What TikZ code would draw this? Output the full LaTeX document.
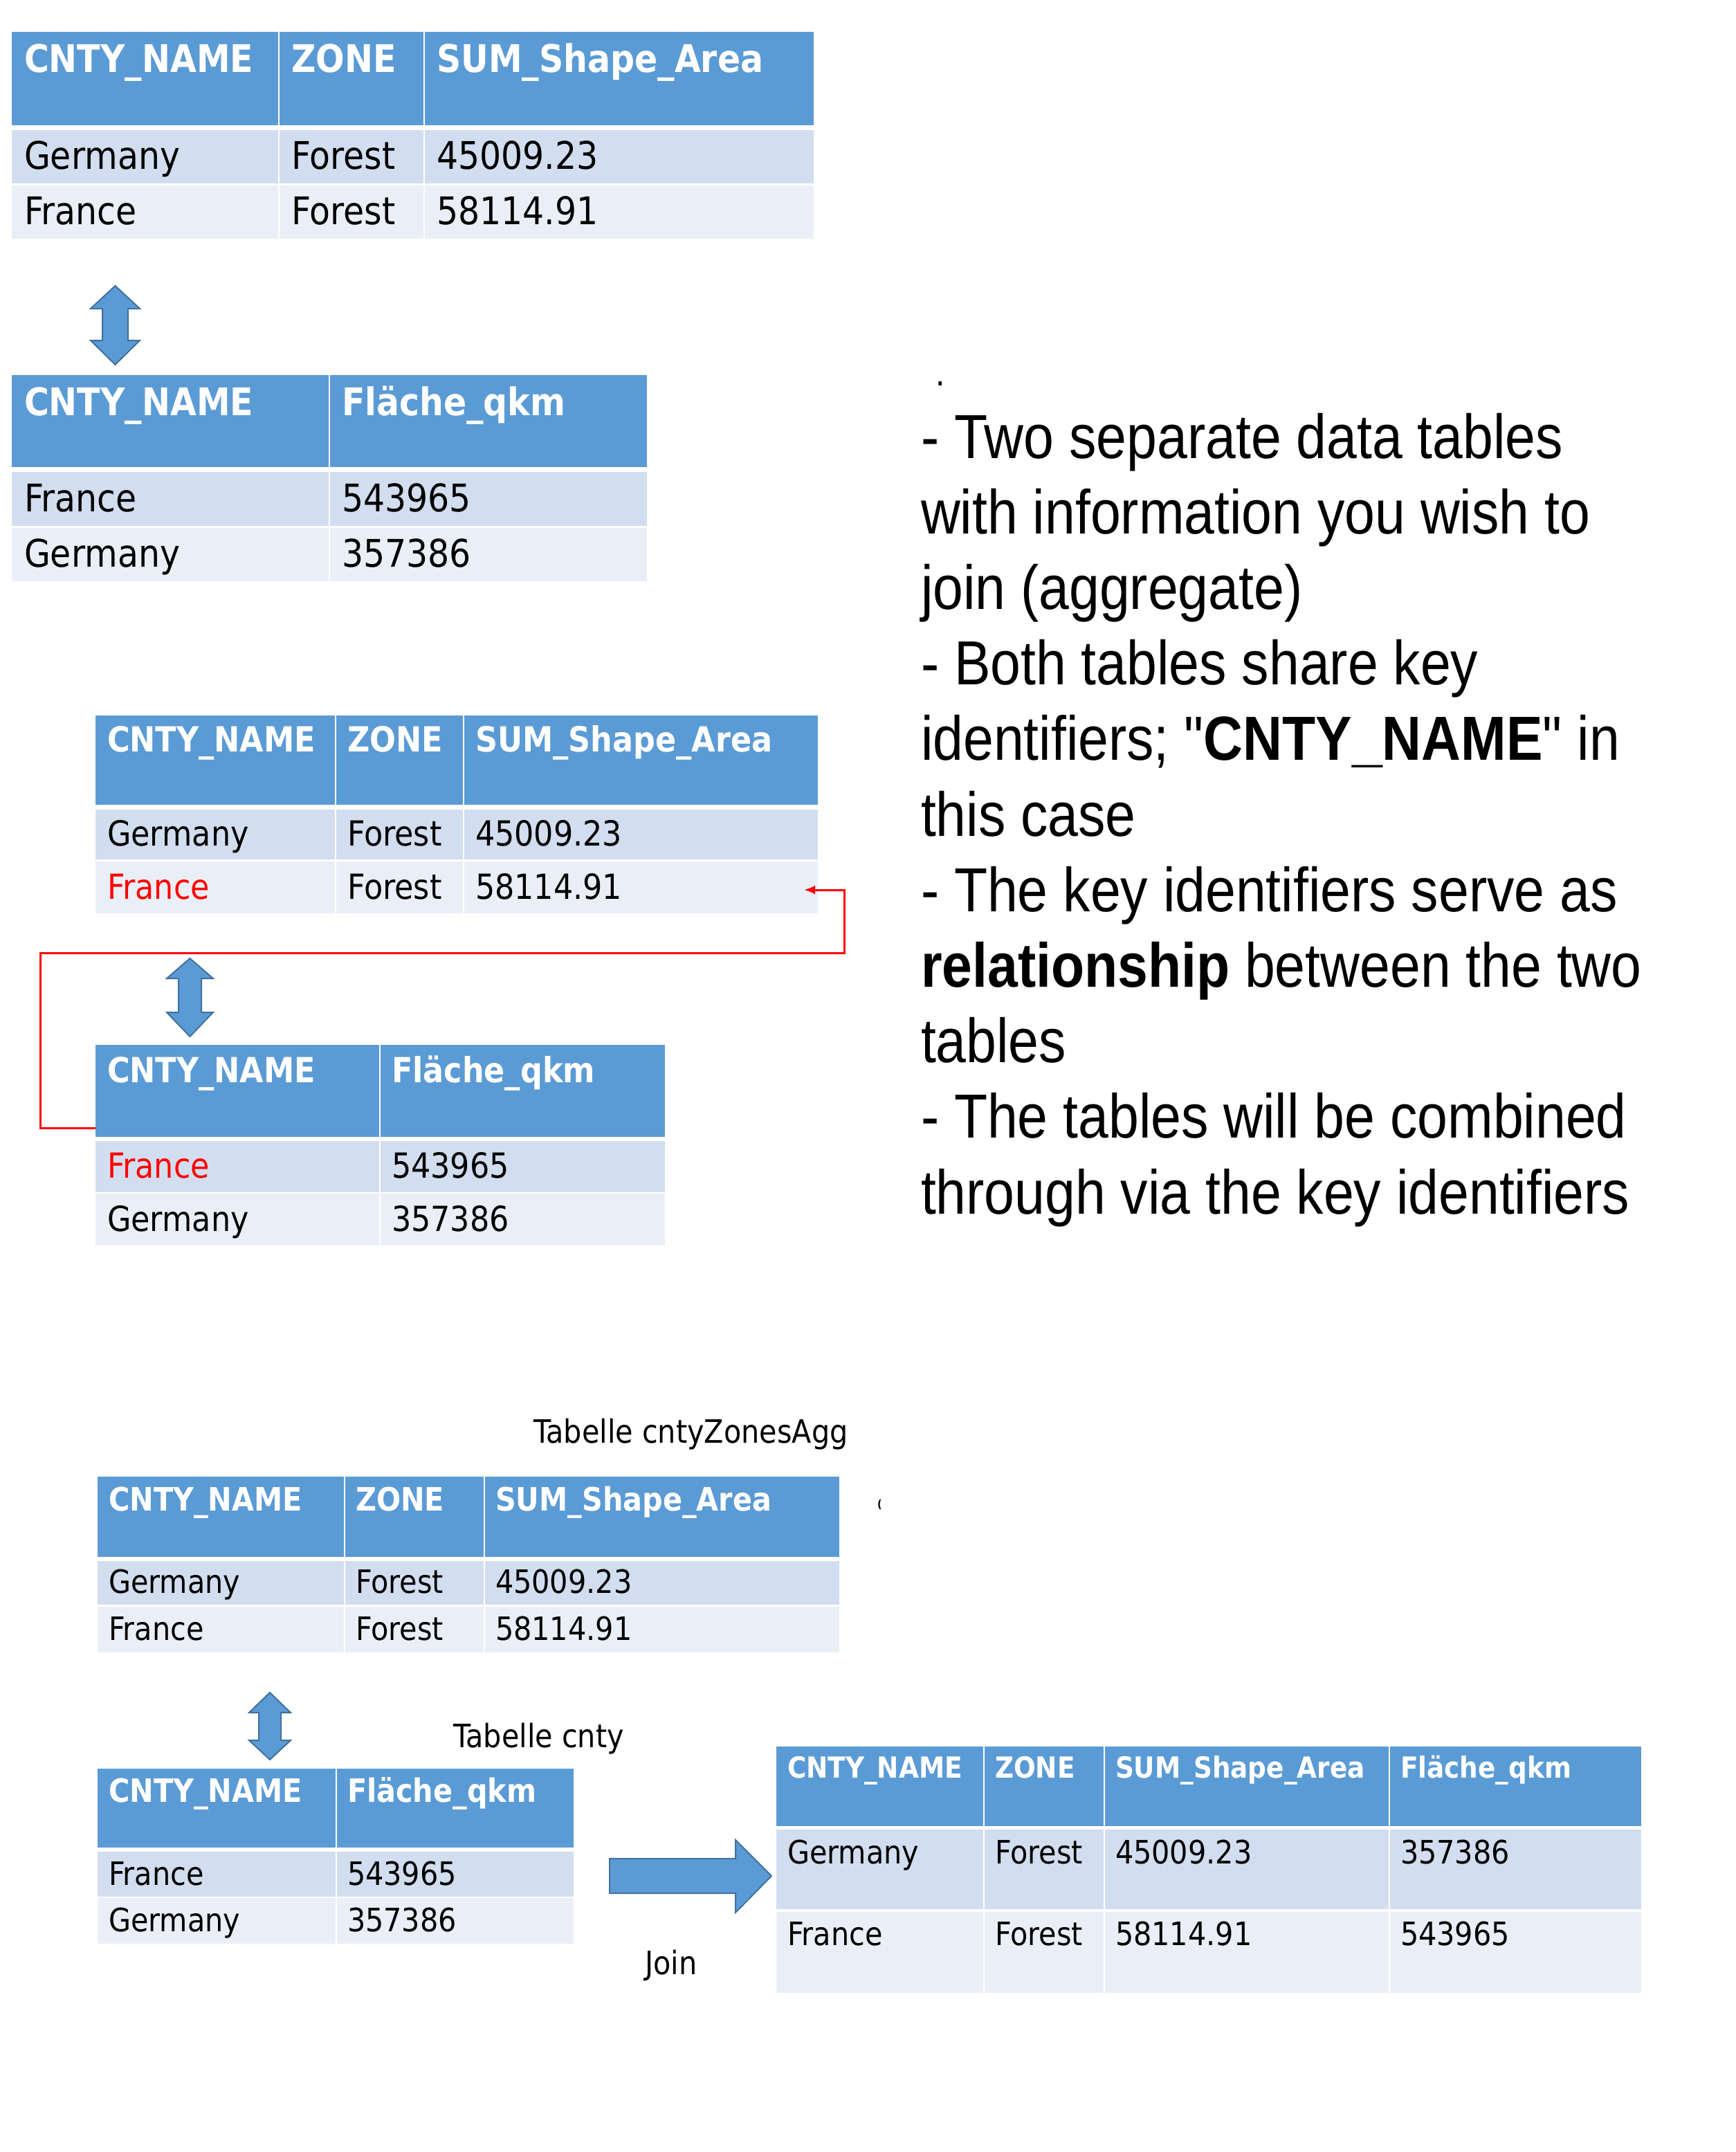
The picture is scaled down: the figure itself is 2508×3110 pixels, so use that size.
\documentclass[tikz,border=0pt]{standalone}
\usepackage{fontspec}
\setmainfont{DejaVu Sans}[FakeStretch=0.89]
\newfontfamily\arialfont{Liberation Sans}[FakeStretch=0.875,Ligatures=TeXOff]
\usetikzlibrary{arrows.meta}
\definecolor{hdrblue}{HTML}{5B9BD5}
\definecolor{rowone}{HTML}{D2DEEF}
\definecolor{rowtwo}{HTML}{EAEFF7}
\definecolor{arrowline}{HTML}{41719C}
\definecolor{keyred}{HTML}{FF0000}
\newcommand\fsA{\fontsize{55}{66}\selectfont}
\newcommand\fsB{\fontsize{50}{60}\selectfont}
\newcommand\fsC{\fontsize{46.5}{56}\selectfont}
\newcommand\fsD{\fontsize{42}{50}\selectfont}
\newcommand\fsR{\arialfont\fontsize{90}{108}\selectfont}
\tikzset{
  hdr/.style={fill=hdrblue},
  rowa/.style={fill=rowone},
  rowb/.style={fill=rowtwo},
  sepline/.style={draw=white, line width=2.5pt},
  cell/.style={anchor=base west, inner sep=0pt, outer sep=0pt},
  hcell/.style={cell, text=white, font=#1\bfseries},
  bcell/.style={cell, text=black, font=#1},
  rcell/.style={cell, text=keyred, font=#1},
  blockarrow/.style={fill=hdrblue, draw=arrowline, line width=2pt, line join=miter},
  keyline/.style={draw=keyred, line width=3pt, -{Latex[length=16pt,width=13pt]}},
  desc/.style={cell, font=\fsR},
  lbl/.style={cell, font=\fsC},
}
\begin{document}
\begin{tikzpicture}[x=1pt,y=-1pt]
\useasboundingbox (0,0) rectangle (2508,3110);
\fill[white] (0,0) rectangle (2508,3110);

% ---------- Table 1 ----------
\fill[hdr]  (17,46)  rectangle (1176,181);
\fill[rowa] (17,188) rectangle (1176,265);
\fill[rowb] (17,268) rectangle (1176,345);
\draw[sepline] (403,46) -- (403,345) (613,46) -- (613,345);
\node[hcell=\fsA] (t1h1) at (35,104) {CNTY\_NAME};
\node[hcell=\fsA] (t1h2) at (421,104) {ZONE};
\node[hcell=\fsA] (t1h3) at (631,104) {SUM\_Shape\_Area};
\node[bcell=\fsA] (t1a1) at (35,244.5) {Germany};
\node[bcell=\fsA] (t1a2) at (421,244.5) {Forest};
\node[bcell=\fsA] (t1a3) at (631,244.5) {45009.23};
\node[bcell=\fsA] (t1b1) at (35,324.5) {France};
\node[bcell=\fsA] (t1b2) at (421,324.5) {Forest};
\node[bcell=\fsA] (t1b3) at (631,324.5) {58114.91};

% arrow 1
\draw[blockarrow] (166.5,413) -- (202,446) -- (185,446) -- (185,492) -- (202,492) -- (166.5,527)
  -- (131,492) -- (148,492) -- (148,446) -- (131,446) -- cycle;

% ---------- Table 2 ----------
\fill[hdr]  (17,542) rectangle (935,675);
\fill[rowa] (17,682) rectangle (935,760);
\fill[rowb] (17,763) rectangle (935,840);
\draw[sepline] (476,542) -- (476,840);
\node[hcell=\fsA] (t2h1) at (35,600) {CNTY\_NAME};
\node[hcell=\fsA] (t2h2) at (494,600) {Fläche\_qkm};
\node[bcell=\fsA] (t2a1) at (35,739) {France};
\node[bcell=\fsA] (t2a2) at (494,739) {543965};
\node[bcell=\fsA] (t2b1) at (35,819.5) {Germany};
\node[bcell=\fsA] (t2b2) at (494,819.5) {357386};

% ---------- Table 3 ----------
\fill[hdr]  (138,1034) rectangle (1182,1163);
\fill[rowa] (138,1170) rectangle (1182,1242);
\fill[rowb] (138,1245) rectangle (1182,1320);
\draw[sepline] (485,1034) -- (485,1320) (670,1034) -- (670,1320);
\node[hcell=\fsB] (t3h1) at (155,1086.5) {CNTY\_NAME};
\node[hcell=\fsB] (t3h2) at (502,1086.5) {ZONE};
\node[hcell=\fsB] (t3h3) at (687,1086.5) {SUM\_Shape\_Area};
\node[bcell=\fsB] (t3a1) at (155,1222.5) {Germany};
\node[bcell=\fsB] (t3a2) at (502,1222.5) {Forest};
\node[bcell=\fsB] (t3a3) at (687,1222.5) {45009.23};
\node[rcell=\fsB] (t3b1) at (155,1299) {France};
\node[bcell=\fsB] (t3b2) at (502,1299) {Forest};
\node[bcell=\fsB] (t3b3) at (687,1299) {58114.91};

% arrow 2
\draw[blockarrow] (274.5,1385) -- (308,1414) -- (291,1414) -- (291,1463) -- (308,1463) -- (274.5,1498)
  -- (241,1463) -- (258,1463) -- (258,1414) -- (241,1414) -- cycle;

% ---------- Table 4 ----------
\fill[hdr]  (138,1510) rectangle (961,1643);
\fill[rowa] (138,1649) rectangle (961,1723);
\fill[rowb] (138,1725) rectangle (961,1800);
\draw[sepline] (549,1510) -- (549,1800);
\node[hcell=\fsB] (t4h1) at (155,1564) {CNTY\_NAME};
\node[hcell=\fsB] (t4h2) at (566,1564) {Fläche\_qkm};
\node[rcell=\fsB] (t4a1) at (155,1702.5) {France};
\node[bcell=\fsB] (t4a2) at (566,1702.5) {543965};
\node[bcell=\fsB] (t4b1) at (155,1779) {Germany};
\node[bcell=\fsB] (t4b2) at (566,1779) {357386};

% red key connector
\coordinate (keystart) at (138,1630);
\coordinate (keyend) at (1162,1286);
\draw[keyline] (keystart) -- (58,1630) -- (58,1377) -- (1220,1377) -- (1220,1286) -- (keyend);

% ---------- description text ----------
\node[cell, font=\arialfont\fontsize{55}{60}\selectfont] (dot) at (1352,557) {.};
\node[desc] (d1) at (1331,662) {- Two separate data tables};
\node[desc] (d2) at (1331,771.2) {with information you wish to};
\node[desc] (d3) at (1331,880.4) {join (aggregate)};
\node[desc] (d4) at (1331,989.6) {- Both tables share key};
\node[desc] (d5) at (1331,1098.8) {identifiers; "\textbf{CNTY\_NAME}" in};
\node[desc] (d6) at (1331,1208) {this case};
\node[desc] (d7) at (1331,1317.2) {- The key identifiers serve as};
\node[desc] (d8) at (1331,1426.4) {\textbf{relationship} between the two};
\node[desc] (d9) at (1331,1535.6) {tables};
\node[desc] (d10) at (1331,1644.8) {- The tables will be combined};
\node[desc] (d11) at (1331,1754) {through via the key identifiers};

% ---------- bottom section ----------
\node[lbl] (lblagg) at (771,2085) {Tabelle cntyZonesAgg};
\node[cell, font=\fontsize{16}{18}\selectfont\bfseries] (paren) at (1268,2179) {(};

% Table 5
\fill[hdr]  (141,2134) rectangle (1213,2250);
\fill[rowa] (141,2256) rectangle (1213,2319);
\fill[rowb] (141,2322) rectangle (1213,2388);
\draw[sepline] (498,2134) -- (498,2388) (700,2134) -- (700,2388);
\node[hcell=\fsC] (t5h1) at (157,2183) {CNTY\_NAME};
\node[hcell=\fsC] (t5h2) at (514,2183) {ZONE};
\node[hcell=\fsC] (t5h3) at (716,2183) {SUM\_Shape\_Area};
\node[bcell=\fsC] (t5a1) at (157,2302.5) {Germany};
\node[bcell=\fsC] (t5a2) at (514,2302.5) {Forest};
\node[bcell=\fsC] (t5a3) at (716,2302.5) {45009.23};
\node[bcell=\fsC] (t5b1) at (157,2370) {France};
\node[bcell=\fsC] (t5b2) at (514,2370) {Forest};
\node[bcell=\fsC] (t5b3) at (716,2370) {58114.91};

% arrow 3
\draw[blockarrow] (390,2446) -- (420,2475) -- (406,2475) -- (406,2515) -- (420,2515) -- (390,2543)
  -- (360,2515) -- (374,2515) -- (374,2475) -- (360,2475) -- cycle;

\node[lbl] (lblcnty) at (655,2525) {Tabelle cnty};

% Table 6
\fill[hdr]  (141,2556) rectangle (829,2670);
\fill[rowa] (141,2676) rectangle (829,2741);
\fill[rowb] (141,2743) rectangle (829,2809);
\draw[sepline] (486,2556) -- (486,2809);
\node[hcell=\fsC] (t6h1) at (157,2604) {CNTY\_NAME};
\node[hcell=\fsC] (t6h2) at (502,2604) {Fläche\_qkm};
\node[bcell=\fsC] (t6a1) at (157,2724) {France};
\node[bcell=\fsC] (t6a2) at (502,2724) {543965};
\node[bcell=\fsC] (t6b1) at (157,2791.5) {Germany};
\node[bcell=\fsC] (t6b2) at (502,2791.5) {357386};

% join arrow
\draw[blockarrow] (881,2686) -- (1063,2686) -- (1063,2659) -- (1115,2711) -- (1063,2764)
  -- (1063,2736) -- (881,2736) -- cycle;
\node[lbl] (lbljoin) at (932,2853) {Join};

% Table 7 (result)
\fill[hdr]  (1122,2524) rectangle (2372,2639);
\fill[rowa] (1122,2644) rectangle (2372,2759);
\fill[rowb] (1122,2763) rectangle (2372,2880);
\draw[sepline] (1422,2524) -- (1422,2880) (1596,2524) -- (1596,2880) (2008,2524) -- (2008,2880);
\node[hcell=\fsD] (t7h1) at (1138,2569) {CNTY\_NAME};
\node[hcell=\fsD] (t7h2) at (1438,2569) {ZONE};
\node[hcell=\fsD] (t7h3) at (1612,2569) {SUM\_Shape\_Area};
\node[hcell=\fsD] (t7h4) at (2024,2569) {Fläche\_qkm};
\node[bcell=\fsC] (t7a1) at (1138,2693) {Germany};
\node[bcell=\fsC] (t7a2) at (1438,2693) {Forest};
\node[bcell=\fsC] (t7a3) at (1612,2693) {45009.23};
\node[bcell=\fsC] (t7a4) at (2024,2693) {357386};
\node[bcell=\fsC] (t7b1) at (1138,2811) {France};
\node[bcell=\fsC] (t7b2) at (1438,2811) {Forest};
\node[bcell=\fsC] (t7b3) at (1612,2811) {58114.91};
\node[bcell=\fsC] (t7b4) at (2024,2811) {543965};
\end{tikzpicture}
\end{document}
